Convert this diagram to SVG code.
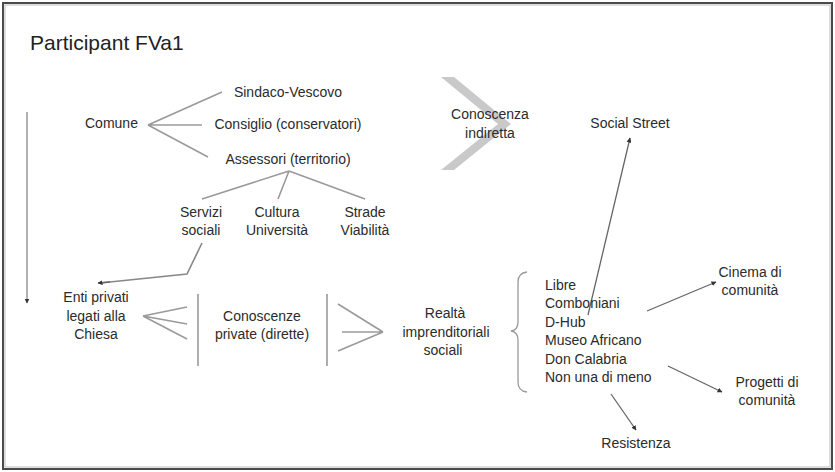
<svg xmlns="http://www.w3.org/2000/svg" width="835" height="472" viewBox="0 0 835 472">
  <defs>
    <marker id="tip" viewBox="0 0 10 10" refX="9" refY="5" markerWidth="5" markerHeight="5" orient="auto" markerUnits="userSpaceOnUse">
      <path d="M0,0 L10,5 L0,10 z" fill="#333"/>
    </marker>
  </defs>
  <style>
    text { font-family: "Liberation Sans", Arial, sans-serif; font-size: 14px; fill: #2b2b2b; }
    .c { text-anchor: middle; }
    .title { font-size: 21px; fill: #222; }
    .tree { stroke: #9a9a9a; stroke-width: 1.6; fill: none; }
    .arrow { stroke: #666; stroke-width: 1.3; fill: none; marker-end: url(#tip); }
    .brace { stroke: #9a9a9a; stroke-width: 1.3; fill: none; }
  </style>

  <!-- frame -->
  <rect x="0" y="0" width="835" height="472" fill="#ffffff"/>
  <rect x="3" y="3" width="829" height="466" fill="none" stroke="#4a4a4a" stroke-width="2"/>
  <rect x="5" y="5" width="825" height="462" fill="none" stroke="#bdbdbd" stroke-width="1"/>

  <text class="title" x="30" y="50">Participant FVa1</text>

  <!-- indirect knowledge chevron -->
  <g id="conoscenza-indiretta">
    <polygon points="441,77 454,77 511,124 454,170 441,170 498,124" fill="#c9c9c9"/>
    <text class="c" x="490" y="119">Conoscenza</text>
    <text class="c" x="490" y="138">indiretta</text>
  </g>

  <g id="connectors">
    <!-- Comune branches -->
    <path class="tree" d="M148,125 L222,92 M148,125 L202,125 M148,125 L208,157"/>
    <!-- Assessori branches -->
    <path class="tree" d="M289,171 L202,199 M289,171 L278,199 M289,171 L365,199"/>
    <!-- Servizi sociali to Enti privati -->
    <path class="tree" d="M202,243 L187,274 L100,283" style="stroke:#888"/>
    <path class="arrow" d="M110,282 L98,283"/>
    <!-- time axis -->
    <path class="arrow" d="M27,112 L27,303" style="stroke:#888"/>
    <!-- private knowledge fan, left -->
    <path class="tree" d="M143,316 L187,307 M143,316 L187,324 M143,316 L187,339"/>
    <path class="tree" d="M198,294 L198,366 M327,294 L327,366"/>
    <!-- private knowledge fan, right -->
    <path class="tree" d="M338,304 L383,332 M342,332 L383,332 M338,351 L383,332"/>
    <!-- brace -->
    <path class="brace" d="M527,272 Q518,273 518,282 L518,322 Q518,330 511,331 Q518,332 518,340 L518,382 Q518,391 527,392"/>
    <!-- outgoing arrows -->
    <path class="arrow" d="M588,315 L630,138"/>
    <path class="arrow" d="M647,311 L716,282"/>
    <path class="arrow" d="M668,366 L722,392"/>
    <path class="arrow" d="M611,394 L636,430"/>
  </g>

  <g id="comune"><text x="85" y="128">Comune</text></g>
  <g id="sindaco"><text class="c" x="288" y="97">Sindaco-Vescovo</text></g>
  <g id="consiglio"><text class="c" x="288" y="129">Consiglio (conservatori)</text></g>
  <g id="assessori"><text class="c" x="288" y="164">Assessori (territorio)</text></g>

  <g id="servizi-sociali">
    <text class="c" x="201" y="217">Servizi</text>
    <text class="c" x="201" y="235">sociali</text>
  </g>
  <g id="cultura-universita">
    <text class="c" x="277" y="217">Cultura</text>
    <text class="c" x="277" y="235">Università</text>
  </g>
  <g id="strade-viabilita">
    <text class="c" x="365" y="217">Strade</text>
    <text class="c" x="365" y="235">Viabilità</text>
  </g>

  <g id="enti-privati">
    <text class="c" x="96" y="302">Enti privati</text>
    <text class="c" x="96" y="321">legati alla</text>
    <text class="c" x="96" y="339">Chiesa</text>
  </g>

  <g id="conoscenze-private">
    <text class="c" x="262" y="321">Conoscenze</text>
    <text class="c" x="262" y="339">private (dirette)</text>
  </g>

  <g id="realta-imprenditoriali">
    <text class="c" x="445" y="318">Realtà</text>
    <text class="c" x="446" y="337">imprenditoriali</text>
    <text class="c" x="443" y="355">sociali</text>
  </g>

  <g id="elenco">
    <text x="545" y="290">Libre</text>
    <text x="545" y="308">Comboniani</text>
    <text x="545" y="327">D-Hub</text>
    <text x="545" y="345">Museo Africano</text>
    <text x="545" y="364">Don Calabria</text>
    <text x="545" y="382">Non una di meno</text>
  </g>

  <g id="social-street"><text class="c" x="630" y="128">Social Street</text></g>
  <g id="cinema">
    <text class="c" x="750" y="277">Cinema di</text>
    <text class="c" x="750" y="295">comunità</text>
  </g>
  <g id="progetti">
    <text class="c" x="767" y="387">Progetti di</text>
    <text class="c" x="767" y="405">comunità</text>
  </g>
  <g id="resistenza"><text class="c" x="636" y="448">Resistenza</text></g>
</svg>
